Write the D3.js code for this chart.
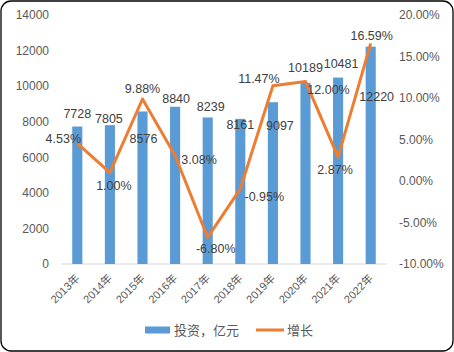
<!DOCTYPE html>
<html>
<head>
<meta charset="utf-8">
<script src="https://cdn.jsdelivr.net/npm/d3@7"></script>
<style>
  body { margin: 0; background: #fff; }
  text { font-family: "Liberation Sans", "Noto Sans CJK SC", sans-serif; }
</style>
</head>
<body>
<div id="chart-area"></div>
<script>
var years = ["2013年", "2014年", "2015年", "2016年", "2017年", "2018年", "2019年", "2020年", "2021年", "2022年"];
var invest = [7728, 7805, 8576, 8840, 8239, 8161, 9097, 10189, 10481, 12220];
var growth = [4.53, 1.00, 9.88, 3.08, -6.80, -0.95, 11.47, 12.00, 2.87, 16.59];
var leftTicks = [0, 2000, 4000, 6000, 8000, 10000, 12000, 14000];
var rightTicks = [-10, -5, 0, 5, 10, 15, 20];

// label nudges (px) as placed in the original
var barLabelDx = [0, -1, 1, 1, 3, 0, 7, 0, 3, 6];
var barLabelDy = [-13, -6, 28, -8, -10, 6, 24, -15, -14, 50];
var lineLabelDx = [-14, 4, 0, 24, 8, 24, -14, 23, -3, 1];
var lineLabelDy = [-4, 13, -10, 5, 12, 8, -7, 9, 13, -7];

var width = 454, height = 352;
var margin = { left: 61, right: 67, top: 15, bottom: 88 };

var svg = d3.select("#chart-area")
  .append("svg")
  .attr("width", width)
  .attr("height", height);

svg.append("rect")
  .attr("x", 1).attr("y", 1)
  .attr("width", width - 2).attr("height", height - 2)
  .attr("rx", 10).attr("ry", 10)
  .attr("fill", "#fff")
  .attr("stroke", "#000")
  .attr("stroke-width", 1.3);

var x = d3.scaleBand()
  .domain(years)
  .range([margin.left, width - margin.right])
  .paddingInner(0.69)
  .paddingOuter(0.345);

var y = d3.scaleLinear()
  .domain([0, 14000])
  .range([height - margin.bottom, margin.top]);

var y2 = d3.scaleLinear()
  .domain([-10, 20])
  .range([height - margin.bottom, margin.top]);

var cx = function(i) { return x(years[i]) + x.bandwidth() / 2; };

// left axis
var leftAxis = svg.append("g")
  .attr("transform", "translate(" + (margin.left - 6) + ",0)")
  .call(d3.axisLeft(y).tickValues(leftTicks).tickSize(0).tickPadding(6).tickFormat(d3.format("d")));
leftAxis.select(".domain").remove();
leftAxis.selectAll("text").attr("fill", "#595959").attr("font-size", 12);

// right axis
var rightAxis = svg.append("g")
  .attr("transform", "translate(" + (width - margin.right + 6) + ",0)")
  .call(d3.axisRight(y2).tickValues(rightTicks).tickSize(0).tickPadding(6)
    .tickFormat(function(d) { return d.toFixed(2) + "%"; }));
rightAxis.select(".domain").remove();
rightAxis.selectAll("text").attr("fill", "#595959").attr("font-size", 12);

// baseline
svg.append("line")
  .attr("x1", margin.left).attr("x2", width - margin.right)
  .attr("y1", y(0)).attr("y2", y(0))
  .attr("stroke", "#d9d9d9").attr("stroke-width", 1);

// bottom axis labels
var xAxis = svg.append("g")
  .attr("transform", "translate(0," + y(0) + ")")
  .call(d3.axisBottom(x).tickSize(0).tickPadding(0));
xAxis.select(".domain").remove();
xAxis.selectAll("text")
  .attr("fill", "#595959")
  .attr("font-size", 11)
  .attr("text-anchor", "end")
  .attr("dy", null)
  .attr("transform", "translate(3,15) rotate(-45)");

// bars
svg.selectAll(".bar")
  .data(invest)
  .enter().append("rect")
  .attr("class", "bar")
  .attr("x", function(d, i) { return x(years[i]); })
  .attr("width", x.bandwidth())
  .attr("y", function(d) { return y(d); })
  .attr("height", function(d) { return y(0) - y(d); })
  .attr("fill", "#5b9bd5");

// line
var line = d3.line()
  .x(function(d, i) { return cx(i); })
  .y(function(d) { return y2(d); });

svg.append("path")
  .datum(growth)
  .attr("d", line)
  .attr("fill", "none")
  .attr("stroke", "#ed7d31")
  .attr("stroke-width", 3)
  .attr("stroke-linejoin", "round");

// bar labels
svg.selectAll(".bar-label")
  .data(invest)
  .enter().append("text")
  .attr("class", "bar-label")
  .attr("x", function(d, i) { return cx(i) + barLabelDx[i]; })
  .attr("y", function(d, i) { return y(d) + barLabelDy[i]; })
  .attr("text-anchor", "middle")
  .attr("dominant-baseline", "central")
  .attr("font-size", 12.5)
  .attr("fill", "#404040")
  .text(function(d) { return d; });

// growth labels
svg.selectAll(".line-label")
  .data(growth)
  .enter().append("text")
  .attr("class", "line-label")
  .attr("x", function(d, i) { return cx(i) + lineLabelDx[i]; })
  .attr("y", function(d, i) { return y2(d) + lineLabelDy[i]; })
  .attr("text-anchor", "middle")
  .attr("dominant-baseline", "central")
  .attr("font-size", 12.5)
  .attr("fill", "#404040")
  .text(function(d) { return d.toFixed(2) + "%"; });

// legend
var legend = svg.append("g").attr("transform", "translate(145,330)");
legend.append("rect")
  .attr("x", 0).attr("y", -3.5)
  .attr("width", 25).attr("height", 7)
  .attr("fill", "#5b9bd5");
legend.append("text")
  .attr("x", 29).attr("y", 0)
  .attr("dominant-baseline", "central")
  .attr("font-size", 13)
  .attr("fill", "#595959")
  .text("投资，亿元");
legend.append("line")
  .attr("x1", 111).attr("x2", 139)
  .attr("y1", 0).attr("y2", 0)
  .attr("stroke", "#ed7d31").attr("stroke-width", 3);
legend.append("text")
  .attr("x", 142).attr("y", 0)
  .attr("dominant-baseline", "central")
  .attr("font-size", 13)
  .attr("fill", "#595959")
  .text("增长");
</script>
</body>
</html>
